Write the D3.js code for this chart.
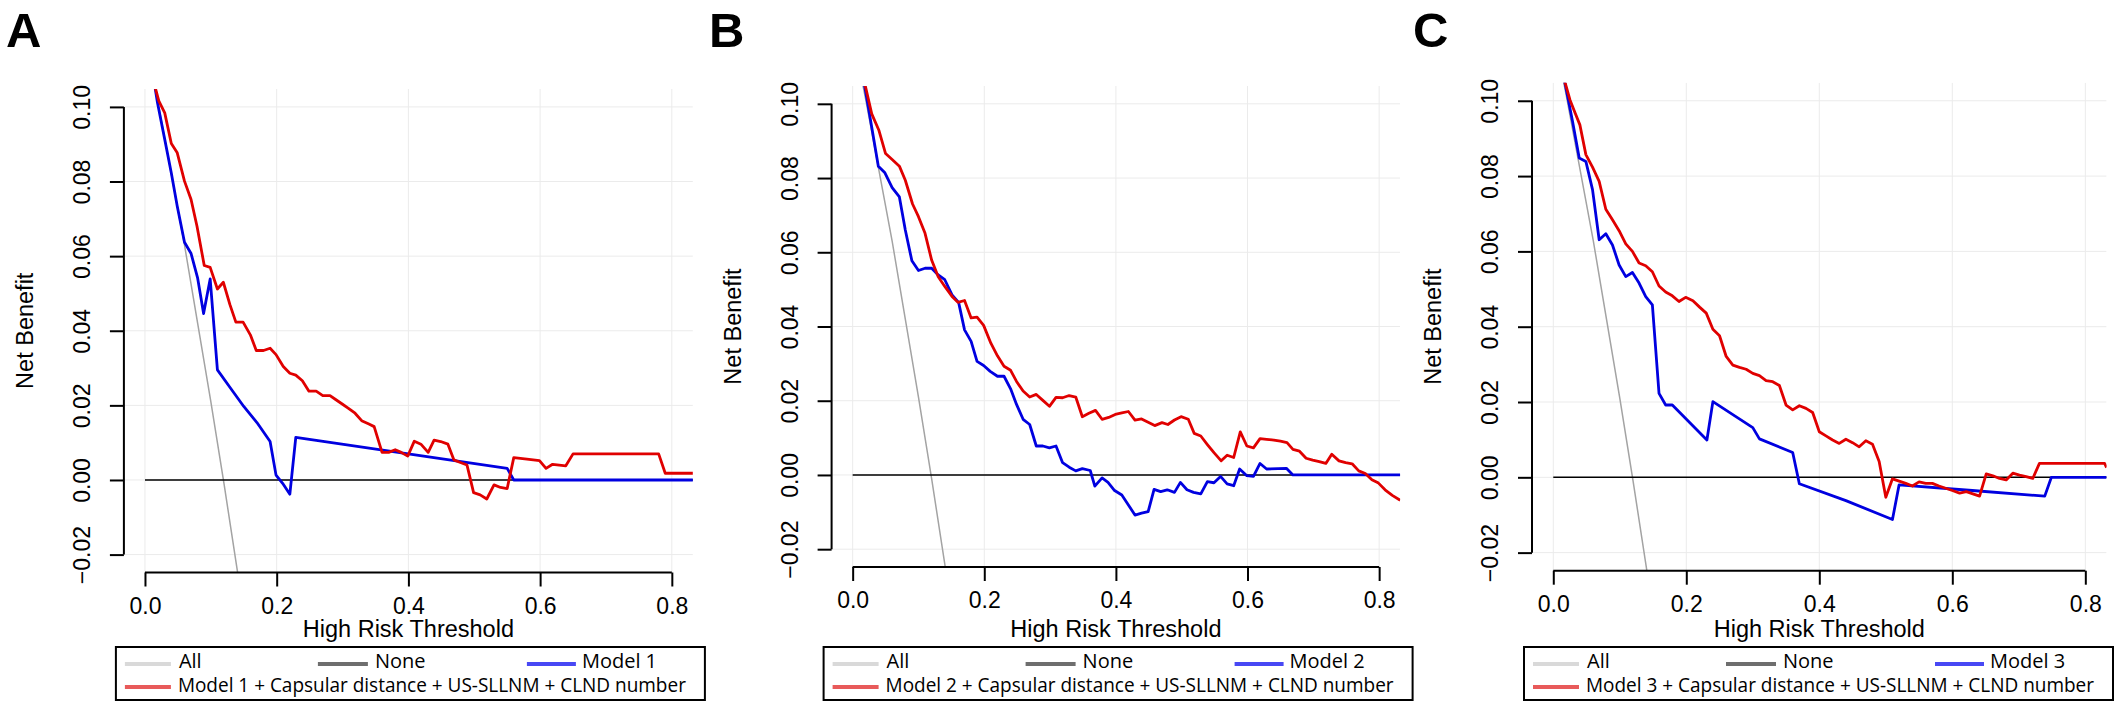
<!DOCTYPE html>
<html>
<head>
<meta charset="utf-8">
<script src="https://cdn.jsdelivr.net/npm/d3@7"></script>
<style>
  body { margin: 0; background: #fff; }
  svg { display: block; }
</style>
</head>
<body>
<div class="container"></div>
<script>
// tick values and labels
var xTicks = [0, 0.2, 0.4, 0.6, 0.8];
var yTicks = [-0.02, 0, 0.02, 0.04, 0.06, 0.08, 0.1];
var panelLabels = ["A", "B", "C"];
var modelNames = ["Model 1", "Model 2", "Model 3"];
var extraTerms = " + Capsular distance + US-SLLNM + CLND number";

// treat-all and treat-none curves (same cohort in every panel)
var allCurve = [[0, 0.119], [0.02, 0.101], [0.04, 0.082], [0.06, 0.063], [0.08, 0.042],
  [0.1, 0.021], [0.12, -0.001], [0.14, -0.024], [0.16, -0.049]];
var noneCurve = [[0, 0], [0.832, 0]];

// panel A
var modelA = [[0.01, 0.111], [0.019, 0.1011], [0.03, 0.0913], [0.04, 0.0823], [0.049, 0.0734],
  [0.06, 0.0637], [0.07, 0.0607], [0.08, 0.0541], [0.089, 0.0446], [0.099, 0.0539], [0.11, 0.0295],
  [0.13, 0.0246], [0.15, 0.0197], [0.17, 0.0154], [0.19, 0.0103], [0.199, 0.0013], [0.209, -0.0009],
  [0.22, -0.0038], [0.229, 0.0114], [0.55, 0.0031], [0.56, 0], [0.832, 0]];
var fullA = [[0.01, 0.111], [0.016, 0.1049], [0.021, 0.1016], [0.03, 0.0984], [0.04, 0.0902],
  [0.049, 0.0877], [0.06, 0.0801], [0.07, 0.0752], [0.079, 0.068], [0.09, 0.0575], [0.099, 0.057],
  [0.11, 0.0512], [0.119, 0.053], [0.129, 0.047], [0.138, 0.0423], [0.149, 0.0423], [0.16, 0.0389],
  [0.169, 0.0347], [0.18, 0.0347], [0.19, 0.0353], [0.199, 0.0336], [0.21, 0.0304], [0.22, 0.0286],
  [0.229, 0.0281], [0.239, 0.0266], [0.249, 0.0238], [0.26, 0.0238], [0.27, 0.0226], [0.281, 0.0226],
  [0.29, 0.0215], [0.3, 0.0203], [0.309, 0.0192], [0.319, 0.0179], [0.329, 0.0159], [0.34, 0.015],
  [0.348, 0.0143], [0.36, 0.0074], [0.37, 0.0074], [0.38, 0.0081], [0.389, 0.0074], [0.399, 0.0064],
  [0.409, 0.0104], [0.419, 0.0096], [0.43, 0.0074], [0.439, 0.0107], [0.449, 0.0103], [0.46, 0.0096],
  [0.469, 0.0054], [0.479, 0.0047], [0.489, 0.004], [0.499, -0.0034], [0.509, -0.004], [0.519, -0.0051],
  [0.53, -0.0013], [0.54, -0.002], [0.55, -0.0023], [0.56, 0.006], [0.57, 0.0058], [0.58, 0.0056],
  [0.599, 0.0052], [0.609, 0.0031], [0.619, 0.0042], [0.629, 0.004], [0.639, 0.0038], [0.65, 0.007],
  [0.78, 0.007], [0.79, 0.0018], [0.832, 0.0018]];

// panel B
var modelB = [[0.01, 0.113], [0.019, 0.104], [0.029, 0.0937], [0.039, 0.0832], [0.049, 0.0814],
  [0.06, 0.0774], [0.071, 0.0749], [0.08, 0.066], [0.09, 0.0577], [0.1, 0.0551], [0.11, 0.0557],
  [0.12, 0.0557], [0.13, 0.0539], [0.14, 0.0526], [0.151, 0.0485], [0.161, 0.0465], [0.17, 0.0391],
  [0.18, 0.036], [0.189, 0.0306], [0.199, 0.0295], [0.209, 0.0279], [0.22, 0.0266], [0.23, 0.0266],
  [0.24, 0.0232], [0.249, 0.019], [0.259, 0.015], [0.269, 0.0136], [0.279, 0.0078], [0.289, 0.0078],
  [0.299, 0.0073], [0.309, 0.0078], [0.319, 0.0033], [0.329, 0.0021], [0.339, 0.0011], [0.349, 0.0017],
  [0.361, 0.0012], [0.368, -0.003], [0.379, -0.0008], [0.388, -0.002], [0.398, -0.0042], [0.409, -0.0054],
  [0.419, -0.0081], [0.429, -0.0108], [0.439, -0.0103], [0.449, -0.0099], [0.458, -0.0039],
  [0.468, -0.0045], [0.478, -0.004], [0.489, -0.0047], [0.498, -0.002], [0.508, -0.004], [0.518, -0.0047],
  [0.529, -0.0051], [0.539, -0.0018], [0.549, -0.0021], [0.559, -0.0004], [0.569, -0.0024],
  [0.579, -0.0029], [0.588, 0.0016], [0.599, -0.0002], [0.609, -0.0004], [0.619, 0.0031],
  [0.629, 0.0016], [0.659, 0.0018], [0.669, 0], [0.832, 0]];
var fullB = [[0.01, 0.113], [0.019, 0.105], [0.029, 0.0973], [0.04, 0.0928], [0.05, 0.0866],
  [0.06, 0.085], [0.071, 0.0832], [0.08, 0.0794], [0.091, 0.073], [0.1, 0.0696], [0.11, 0.0651],
  [0.12, 0.0579], [0.13, 0.0534], [0.14, 0.0508], [0.151, 0.0481], [0.16, 0.0465], [0.17, 0.047],
  [0.18, 0.0423], [0.189, 0.0425], [0.199, 0.0403], [0.21, 0.0355], [0.22, 0.0321], [0.23, 0.0293],
  [0.24, 0.0282], [0.249, 0.0252], [0.259, 0.0226], [0.269, 0.021], [0.279, 0.0217], [0.289, 0.0201],
  [0.299, 0.0185], [0.309, 0.0209], [0.319, 0.0208], [0.329, 0.0214], [0.339, 0.021], [0.349, 0.0157],
  [0.359, 0.0166], [0.369, 0.0174], [0.379, 0.015], [0.389, 0.0155], [0.399, 0.0163], [0.409, 0.0167],
  [0.419, 0.0171], [0.429, 0.0148], [0.439, 0.0151], [0.449, 0.0142], [0.459, 0.0133], [0.47, 0.0141],
  [0.479, 0.0136], [0.489, 0.0148], [0.499, 0.0157], [0.51, 0.015], [0.519, 0.0112], [0.529, 0.0105],
  [0.539, 0.0082], [0.549, 0.006], [0.56, 0.0038], [0.569, 0.0053], [0.579, 0.0047], [0.589, 0.0116],
  [0.599, 0.0078], [0.609, 0.0073], [0.619, 0.0098], [0.629, 0.0096], [0.64, 0.0094], [0.65, 0.0091],
  [0.66, 0.0087], [0.669, 0.0069], [0.679, 0.0064], [0.689, 0.0045], [0.699, 0.004], [0.709, 0.0036],
  [0.719, 0.0031], [0.728, 0.0056], [0.739, 0.0038], [0.749, 0.0033], [0.759, 0.003], [0.769, 0.0011],
  [0.779, 0.0004], [0.789, -0.0013], [0.799, -0.0022], [0.809, -0.004], [0.82, -0.0055], [0.832, -0.0068]];

// panel C
var modelC = [[0.01, 0.112], [0.018, 0.1043], [0.029, 0.0945], [0.039, 0.0848], [0.049, 0.0839],
  [0.059, 0.0764], [0.069, 0.0631], [0.079, 0.0647], [0.089, 0.0617], [0.099, 0.0564], [0.109, 0.0533],
  [0.119, 0.0544], [0.129, 0.0516], [0.139, 0.048], [0.149, 0.0458], [0.159, 0.0223], [0.169, 0.0192],
  [0.179, 0.0192], [0.231, 0.0099], [0.24, 0.0201], [0.3, 0.0132], [0.31, 0.0102], [0.36, 0.0066],
  [0.37, -0.0017], [0.44, -0.0062], [0.51, -0.0112], [0.52, -0.002], [0.63, -0.0035], [0.739, -0.005],
  [0.749, 0], [0.832, 0]];
var fullC = [[0.01, 0.112], [0.018, 0.1047], [0.025, 0.1003], [0.033, 0.0967], [0.04, 0.0936],
  [0.049, 0.0857], [0.059, 0.0824], [0.069, 0.0786], [0.079, 0.0712], [0.089, 0.0684], [0.099, 0.0655],
  [0.109, 0.062], [0.119, 0.06], [0.129, 0.0569], [0.139, 0.0562], [0.149, 0.0546], [0.159, 0.0508],
  [0.169, 0.0492], [0.179, 0.0482], [0.189, 0.0467], [0.199, 0.0478], [0.21, 0.0469], [0.22, 0.0452],
  [0.23, 0.0436], [0.24, 0.0393], [0.25, 0.0376], [0.26, 0.0321], [0.27, 0.0298], [0.28, 0.0292],
  [0.29, 0.0287], [0.3, 0.0276], [0.31, 0.027], [0.32, 0.0257], [0.33, 0.0254], [0.34, 0.0244],
  [0.35, 0.0192], [0.36, 0.0179], [0.37, 0.019], [0.38, 0.0183], [0.39, 0.0172], [0.4, 0.0121],
  [0.41, 0.011], [0.42, 0.0099], [0.43, 0.009], [0.44, 0.0101], [0.45, 0.0092], [0.46, 0.0081],
  [0.47, 0.0097], [0.48, 0.0088], [0.49, 0.0042], [0.5, -0.0053], [0.51, -0.0004], [0.52, -0.001],
  [0.53, -0.0016], [0.54, -0.0023], [0.55, -0.0012], [0.56, -0.0016], [0.57, -0.0016], [0.58, -0.0023],
  [0.59, -0.0029], [0.6, -0.0035], [0.611, -0.0042], [0.621, -0.0038], [0.631, -0.0044], [0.641, -0.005],
  [0.651, 0.0009], [0.661, 0.0004], [0.671, -0.0003], [0.681, -0.0007], [0.691, 0.0011], [0.701, 0.0006],
  [0.711, 0.0002], [0.721, -0.0003], [0.731, 0.0037], [0.829, 0.0037], [0.832, 0.0026]];

var modelSeries = [modelA, modelB, modelC];
var fullSeries = [fullA, fullB, fullC];

// page layout of the three panels (pixels)
var layout = [
  { left: 123.9, right: 692.9, top: 89, bottom: 572.5, labelX: 6 },
  { left: 831.6, right: 1400.2, top: 86, bottom: 567, labelX: 709 },
  { left: 1532, right: 2106.6, top: 82.7, bottom: 570.7, labelX: 1413 }
];

var axisFont = "'Liberation Sans', Arial, sans-serif";
var legendFont = "'Open Sans', 'Noto Sans', sans-serif";

var svg = d3
  .select(".container")
  .append("svg")
  .attr("width", 2125)
  .attr("height", 714);

var line = d3.line();

layout.forEach(function (p, i) {
  var x = d3.scaleLinear().domain([-0.032, 0.832]).range([p.left, p.right]);
  var y = d3.scaleLinear().domain([-0.0248, 0.1048]).range([p.bottom, p.top]);
  line.x((d) => x(d[0])).y((d) => y(d[1]));

  var g = svg.append("g");

  g.append("clipPath")
    .attr("id", "clip" + i)
    .append("rect")
    .attr("x", p.left)
    .attr("y", p.top)
    .attr("width", p.right - p.left)
    .attr("height", p.bottom - p.top);

  var plot = g.append("g").attr("clip-path", "url(#clip" + i + ")");

  // grid
  plot.selectAll(".vgrid")
    .data(xTicks)
    .enter()
    .append("line")
    .attr("x1", (d) => x(d))
    .attr("x2", (d) => x(d))
    .attr("y1", p.top)
    .attr("y2", p.bottom)
    .style("stroke", "#ebebeb")
    .style("stroke-width", 1);
  plot.selectAll(".hgrid")
    .data(yTicks)
    .enter()
    .append("line")
    .attr("x1", p.left)
    .attr("x2", p.right)
    .attr("y1", (d) => y(d))
    .attr("y2", (d) => y(d))
    .style("stroke", "#ebebeb")
    .style("stroke-width", 1);

  plot.append("path").datum(allCurve).attr("d", line)
    .style("fill", "none").style("stroke", "#a3a3a3").style("stroke-width", 1.5);
  plot.append("path").datum(noneCurve).attr("d", line)
    .style("fill", "none").style("stroke", "#000").style("stroke-width", 1.6);
  plot.append("path").datum(modelSeries[i]).attr("d", line)
    .style("fill", "none").style("stroke", "#0000e0").style("stroke-width", 2.8)
    .style("stroke-linejoin", "round");
  plot.append("path").datum(fullSeries[i]).attr("d", line)
    .style("fill", "none").style("stroke", "#e00000").style("stroke-width", 2.8)
    .style("stroke-linejoin", "round");

  // axes, R style: line runs from first to last tick
  var xAxis = d3.axisBottom(x).tickValues(xTicks).tickFormat(d3.format(".1f")).tickSize(14);
  var xg = g.append("g").attr("transform", "translate(0," + p.bottom + ")").call(xAxis);
  xg.select(".domain").remove();
  xg.append("line")
    .attr("x1", x(xTicks[0]))
    .attr("x2", x(xTicks[xTicks.length - 1]))
    .style("stroke", "#000");
  xg.selectAll("line").style("stroke-width", 2);
  xg.selectAll("text")
    .attr("y", 41)
    .attr("dy", null)
    .style("font-family", axisFont)
    .style("font-size", "23px")
    .style("fill", "#000");

  var yAxis = d3.axisLeft(y).tickValues(yTicks).tickFormat(d3.format(".2f")).tickSize(14);
  var yg = g.append("g").attr("transform", "translate(" + p.left + ",0)").call(yAxis);
  yg.select(".domain").remove();
  yg.append("line")
    .attr("y1", y(yTicks[0]))
    .attr("y2", y(yTicks[yTicks.length - 1]))
    .style("stroke", "#000");
  yg.selectAll("line").style("stroke-width", 2);
  yg.selectAll("text")
    .attr("x", 0)
    .attr("dy", null)
    .attr("transform", "translate(-34,0) rotate(-90)")
    .style("text-anchor", "middle")
    .style("font-family", axisFont)
    .style("font-size", "23px")
    .style("fill", "#000");

  g.append("text")
    .attr("x", (p.left + p.right) / 2)
    .attr("y", 637)
    .style("text-anchor", "middle")
    .style("font-family", axisFont)
    .style("font-size", "23.5px")
    .text("High Risk Threshold");

  g.append("text")
    .attr("transform", "translate(" + (p.left - 91) + "," + (p.top + p.bottom) / 2 + ") rotate(-90)")
    .style("text-anchor", "middle")
    .style("font-family", axisFont)
    .style("font-size", "23.5px")
    .text("Net Benefit");

  g.append("text")
    .attr("x", p.labelX)
    .attr("y", 47)
    .style("font-family", axisFont)
    .style("font-weight", 700)
    .style("font-size", "49px")
    .text(panelLabels[i]);

  // legend
  var bl = p.left - 8;
  var lg = g.append("g");
  lg.append("rect")
    .attr("x", bl)
    .attr("y", 647)
    .attr("width", 589)
    .attr("height", 53)
    .style("fill", "#fff")
    .style("stroke", "#000")
    .style("stroke-width", 2);

  var entries = [
    { name: "All", color: "#d9d9d9", x1: 9, x2: 55, tx: 63, row: 0 },
    { name: "None", color: "#6e6e6e", x1: 202, x2: 252, tx: 259, row: 0 },
    { name: modelNames[i], color: "#4848f4", x1: 411, x2: 460, tx: 466, row: 0 },
    { name: modelNames[i] + extraTerms, color: "#e85a5a", x1: 9, x2: 55, tx: 62, row: 1 }
  ];
  var rowLine = [664, 687], rowText = [668, 692];

  lg.selectAll(".key")
    .data(entries)
    .enter()
    .append("line")
    .attr("x1", (d) => bl + d.x1)
    .attr("x2", (d) => bl + d.x2)
    .attr("y1", (d) => rowLine[d.row])
    .attr("y2", (d) => rowLine[d.row])
    .style("stroke", (d) => d.color)
    .style("stroke-width", 4);

  lg.selectAll(".keytext")
    .data(entries)
    .enter()
    .append("text")
    .attr("x", (d) => bl + d.tx)
    .attr("y", (d) => rowText[d.row])
    .attr("textLength", (d) => (d.row == 1 ? 508 : null))
    .attr("lengthAdjust", "spacingAndGlyphs")
    .style("font-family", legendFont)
    .style("font-size", "20px")
    .text((d) => d.name);
});
</script>
</body>
</html>
